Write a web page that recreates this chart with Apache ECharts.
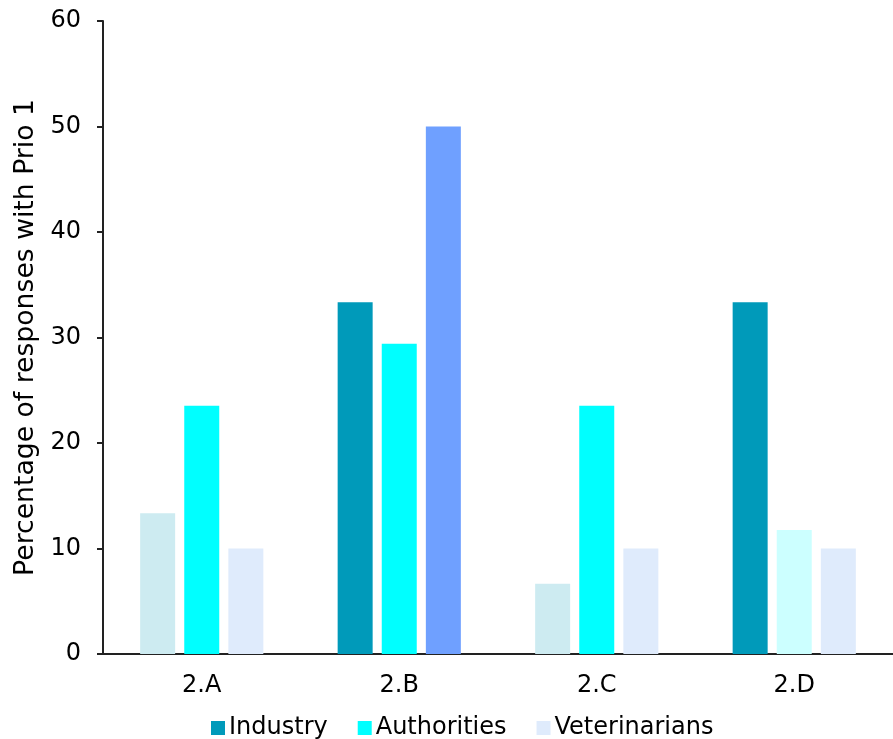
<!DOCTYPE html>
<html>
<head>
<meta charset="utf-8">
<script src="https://cdn.jsdelivr.net/npm/echarts@6/dist/echarts.min.js"></script>
<style>html,body{margin:0;padding:0;background:#fff}#c{width:893px;height:739px}</style>
</head>
<body>
<div id="c"></div>
<script>
const categories = ['2.A', '2.B', '2.C', '2.D'];
const industry = [13.33, 33.33, 6.67, 33.33];
const authorities = [23.53, 29.41, 23.53, 11.76];
const veterinarians = [10, 50, 10, 10];
const yTicks = [0, 10, 20, 30, 40, 50, 60];

const base = { Industry: '#009ABA', Authorities: '#00FFFF', Veterinarians: '#DFEBFC' };
// per-bar shades as drawn in the reference
const industryColors = ['#CDEBF1', '#009ABA', '#CDEBF1', '#009ABA'];
const authoritiesColors = ['#00FFFF', '#00FFFF', '#00FFFF', '#CCFFFF'];
const vetColors = ['#DFEBFC', '#6FA0FF', '#DFEBFC', '#DFEBFC'];

function mk(name, vals, cols) {
  return {
    name: name, type: 'bar', barWidth: 35, barGap: '26%',
    itemStyle: { color: base[name] },
    data: vals.map((v, i) => ({ value: v, itemStyle: { color: cols[i] } }))
  };
}

const font = 'DejaVu Sans';
const chart = echarts.init(document.getElementById('c'));
chart.setOption({
  animation: false,
  textStyle: { fontFamily: font },
  grid: { left: 103, right: -7, top: 21, bottom: 85, containLabel: false },
  legend: {
    top: 716, left: 211, padding: 0, itemWidth: 14, itemHeight: 14, itemGap: 30,
    icon: 'rect',
    textStyle: { fontFamily: font, fontSize: 24, color: '#000', padding: [0, 0, 0, -1] },
    data: [
      { name: 'Industry', itemStyle: { color: base.Industry } },
      { name: 'Authorities', itemStyle: { color: base.Authorities } },
      { name: 'Veterinarians', itemStyle: { color: base.Veterinarians } }
    ]
  },
  xAxis: {
    type: 'category', data: categories,
    axisLine: { lineStyle: { color: '#222', width: 2 } },
    axisTick: { show: false },
    axisLabel: { fontFamily: font, fontSize: 24, color: '#000', margin: 20 }
  },
  yAxis: {
    type: 'value', min: yTicks[0], max: yTicks[yTicks.length - 1], interval: 10,
    name: 'Percentage of responses with Prio 1', nameLocation: 'middle', nameGap: 62,
    nameTextStyle: { fontFamily: font, fontSize: 26.67, color: '#000' },
    axisLine: { show: true, lineStyle: { color: '#222', width: 2 } },
    axisTick: { show: true, length: 6, lineStyle: { color: '#222', width: 2 } },
    splitLine: { show: false },
    axisLabel: { fontFamily: font, fontSize: 24, color: '#000', margin: 22 }
  },
  series: [
    mk('Industry', industry, industryColors),
    mk('Authorities', authorities, authoritiesColors),
    mk('Veterinarians', veterinarians, vetColors)
  ]
});
</script>
</body>
</html>
